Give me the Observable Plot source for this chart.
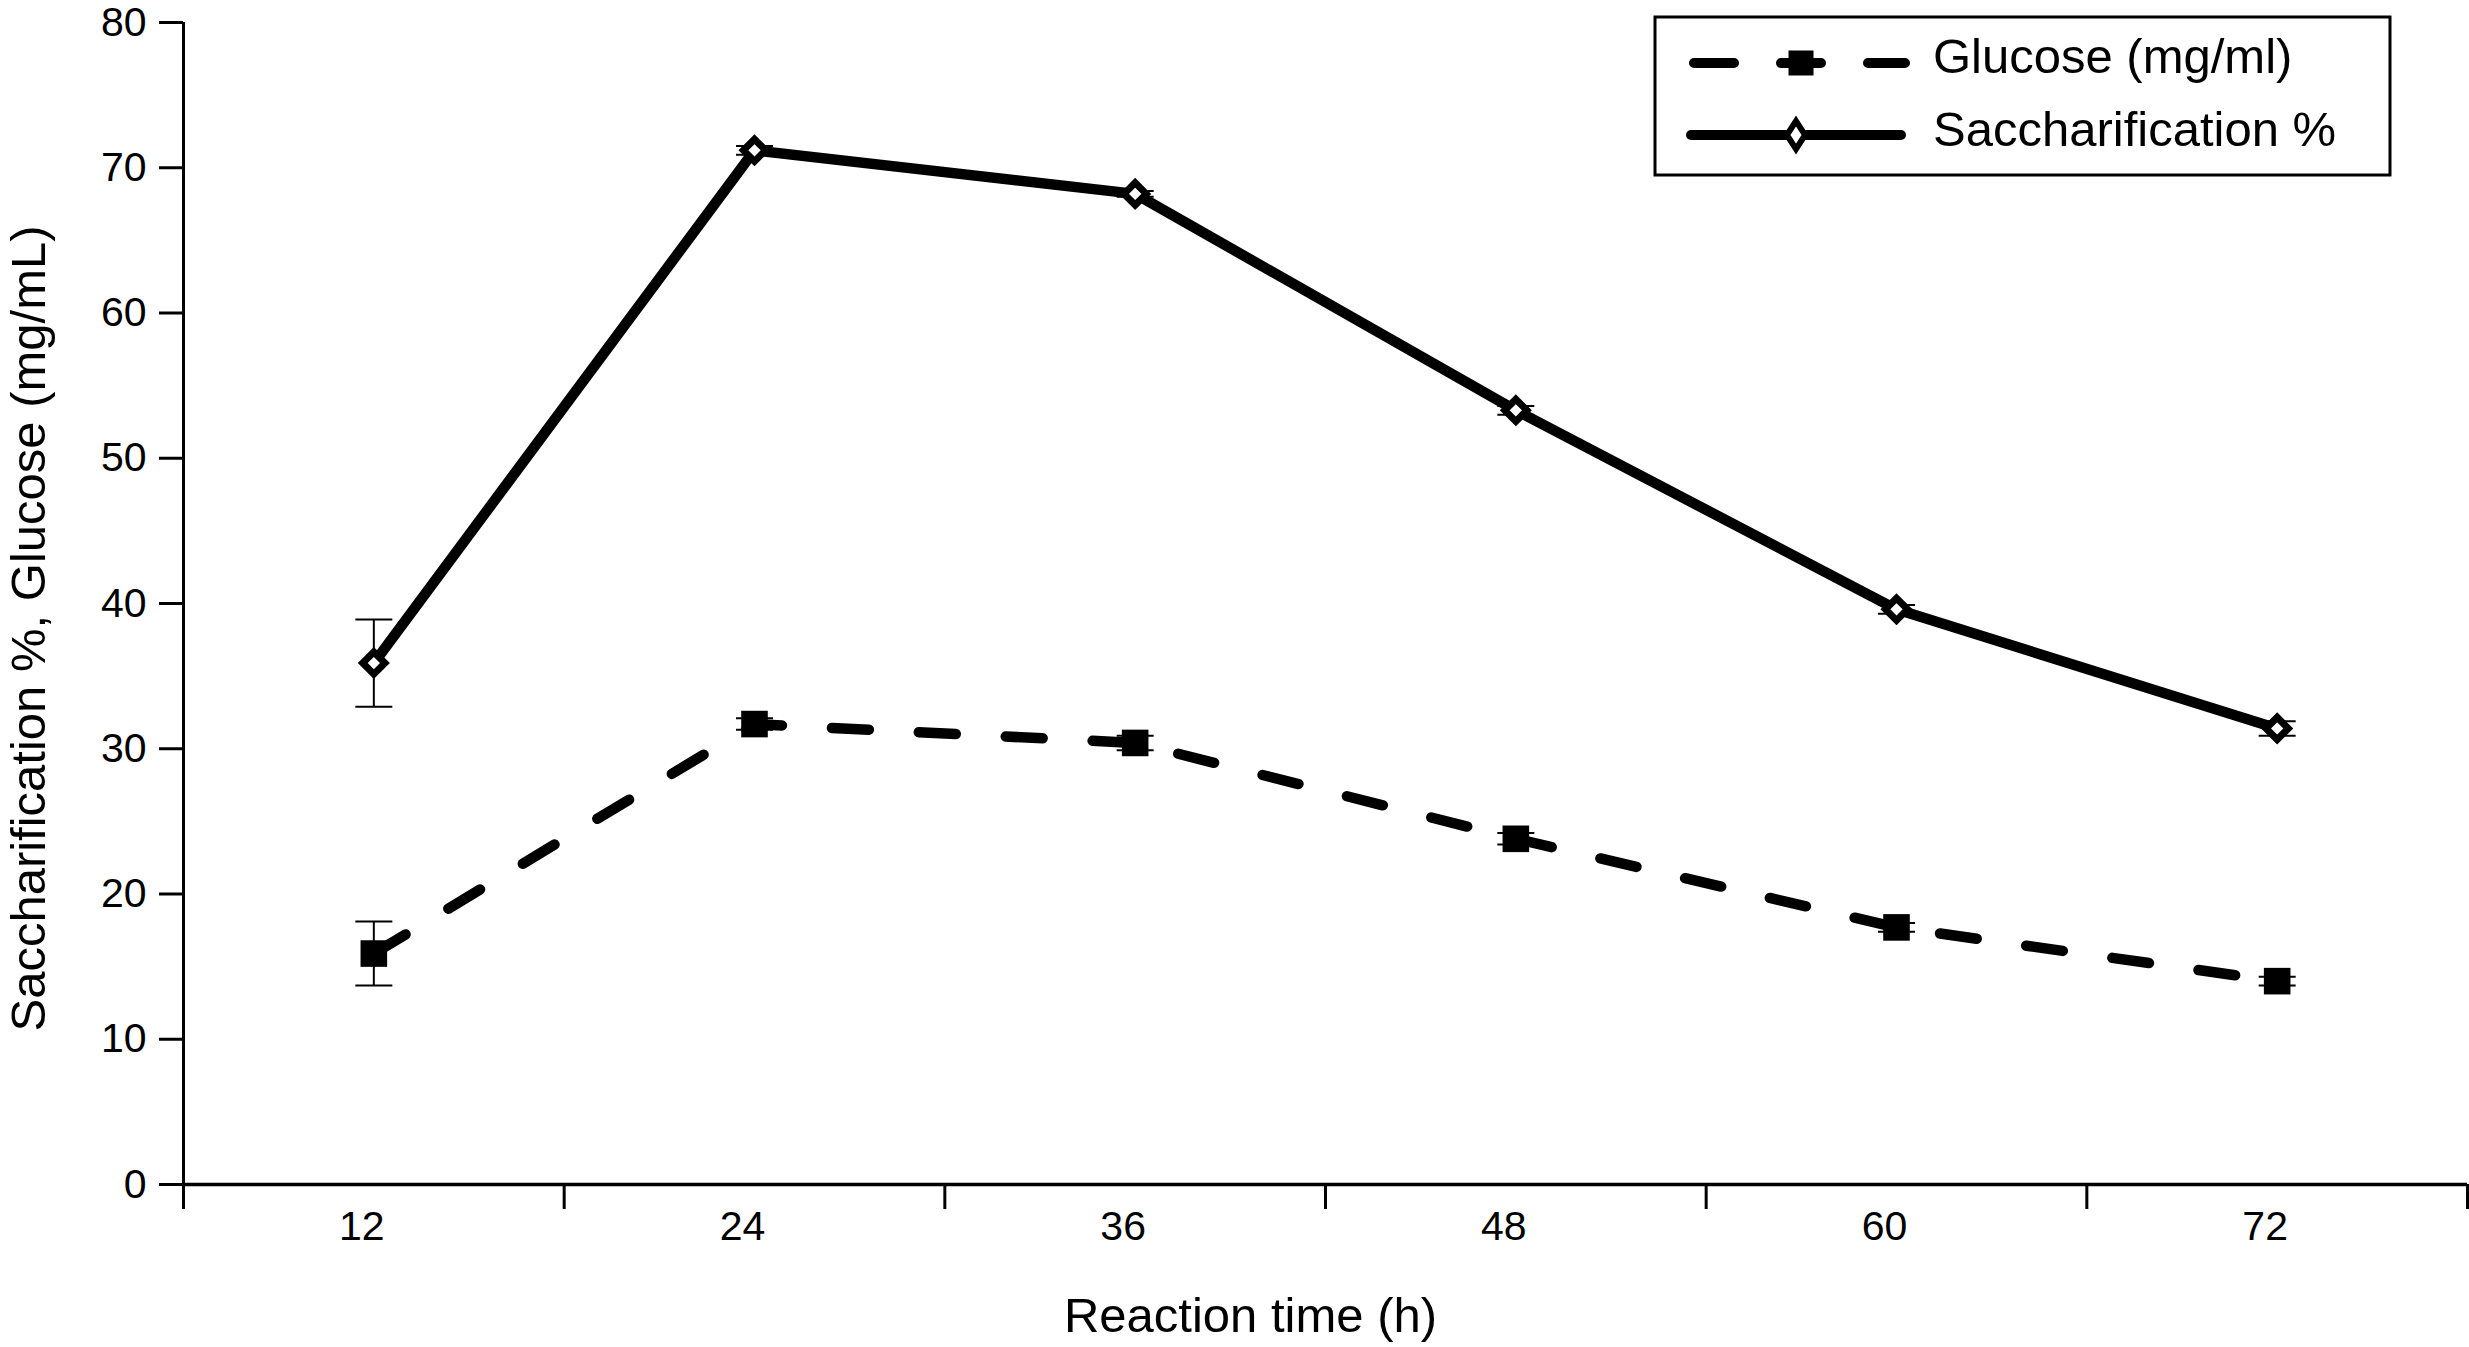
<!DOCTYPE html>
<html>
<head>
<meta charset="utf-8">
<script src="https://cdn.jsdelivr.net/npm/d3@7"></script>
<script src="https://cdn.jsdelivr.net/npm/@observablehq/plot@0.6"></script>
<style>
  body { margin: 0; background: white; }
</style>
</head>
<body>
<div id="chart"></div>
<script>
// valores
const hours = [12, 24, 36, 48, 60, 72]
const saccharification = [35.9, 71.2, 68.2, 53.3, 39.6, 31.4]
const saccharificationErr = [3.0, 0.3, 0.2, 0.3, 0.3, 0.5]
const glucose = [15.9, 31.7, 30.4, 23.8, 17.7, 14.0]
const glucoseErr = [2.2, 0.4, 0.5, 0.4, 0.3, 0.3]
const yTicks = [0, 10, 20, 30, 40, 50, 60, 70, 80]
const xBounds = [6, 18, 30, 42, 54, 66, 78]
const seriesNames = ['Glucose (mg/ml)', 'Saccharification %']
const xTitle = 'Reaction time (h)'
const yTitle = 'Saccharification %, Glucose (mg/mL)'

const font = "'Liberation Sans', Arial, Helvetica, sans-serif"

let sacRows = hours.map((t, i) => ({t, v: saccharification[i], e: saccharificationErr[i]}))
let gluRows = hours.map((t, i) => ({t, v: glucose[i], e: glucoseErr[i]}))
let allRows = sacRows.concat(gluRows)

// símbolo para los topes de las barras de error (línea horizontal)
const cap = {
  draw(context, size) {
    const w = Math.sqrt(size / Math.PI)
    context.moveTo(-w, 0)
    context.lineTo(w, 0)
  }
}

let chart = Plot.plot({
  width: 2469,
  height: 1347,
  marginLeft: 183,
  marginRight: 2,
  marginTop: 22,
  marginBottom: 163,
  style: {fontFamily: font, background: 'white', color: 'black'},
  x: {domain: [6, 78]},
  y: {domain: [0, 80]},
  marks: [
    // barras de error
    Plot.ruleX(allRows, {x: 't', y1: d => d.v - d.e, y2: d => d.v + d.e, stroke: 'black', strokeWidth: 2}),
    Plot.dot(allRows, {x: 't', y: d => d.v + d.e, symbol: cap, r: 18.5, fill: 'none', stroke: 'black', strokeWidth: 2}),
    Plot.dot(allRows, {x: 't', y: d => d.v - d.e, symbol: cap, r: 18.5, fill: 'none', stroke: 'black', strokeWidth: 2}),
    // series
    Plot.line(gluRows, {x: 't', y: 'v', stroke: 'black', strokeWidth: 10.5, strokeDasharray: '37,50', strokeLinecap: 'round'}),
    Plot.line(sacRows, {x: 't', y: 'v', stroke: 'black', strokeWidth: 10.5, strokeLinejoin: 'round'}),
    Plot.dot(gluRows, {x: 't', y: 'v', symbol: 'square', r: 15, fill: 'black', stroke: 'none'}),
    Plot.dot(sacRows, {x: 't', y: 'v', symbol: 'diamond2', r: 10, fill: 'white', stroke: 'black', strokeWidth: 7}),
    // ejes
    Plot.ruleX([6], {stroke: 'black', strokeWidth: 3}),
    Plot.ruleY([0], {stroke: 'black', strokeWidth: 3.5}),
    Plot.axisY({ticks: yTicks, tickSize: 24, tickPadding: 13, fontSize: 41, strokeWidth: 3, label: null}),
    Plot.axisX({ticks: xBounds, tickSize: 25, tickFormat: () => '', strokeWidth: 3, label: null}),
    Plot.axisX({ticks: hours, tickSize: 0, tickPadding: 26, fontSize: 41, dx: -12, label: null}),
    Plot.text([xTitle], {text: d => d, frameAnchor: 'bottom', textAnchor: 'middle', lineAnchor: 'middle', dx: -75, dy: 132, fontSize: 49, fill: 'black'}),
    Plot.text([yTitle], {text: d => d, frameAnchor: 'left', textAnchor: 'middle', lineAnchor: 'middle', rotate: -90, dx: -154, dy: 25, fontSize: 49, fill: 'black'})
  ]
})

// leyenda dentro del área del gráfico
let svg = d3.select(chart)
let lg = svg.append('g')
  .attr('font-family', font).attr('font-size', 49)
  .attr('fill', 'black').attr('text-anchor', 'start')

lg.append('rect')
  .attr('x', 1655).attr('y', 17).attr('width', 735).attr('height', 158)
  .attr('fill', 'white').attr('stroke', 'black').attr('stroke-width', 3)

// fila glucosa
lg.append('line')
  .attr('x1', 1694).attr('x2', 1905).attr('y1', 63).attr('y2', 63)
  .attr('stroke', 'black').attr('stroke-width', 10)
  .attr('stroke-dasharray', '40,47').attr('stroke-linecap', 'round')
lg.append('rect')
  .attr('x', 1788.5).attr('y', 50.5).attr('width', 25).attr('height', 25)
  .attr('fill', 'black')
lg.append('text').attr('x', 1933).attr('y', 73).text(seriesNames[0])

// fila sacarificación
lg.append('line')
  .attr('x1', 1691).attr('x2', 1901).attr('y1', 135).attr('y2', 135)
  .attr('stroke', 'black').attr('stroke-width', 10).attr('stroke-linecap', 'round')
lg.append('path')
  .attr('d', 'M1796,121L1805,135L1796,149L1787,135Z')
  .attr('fill', 'white').attr('stroke', 'black').attr('stroke-width', 6)
lg.append('text').attr('x', 1933).attr('y', 146).text(seriesNames[1])

d3.select('#chart').append(() => chart)
</script>
</body>
</html>
